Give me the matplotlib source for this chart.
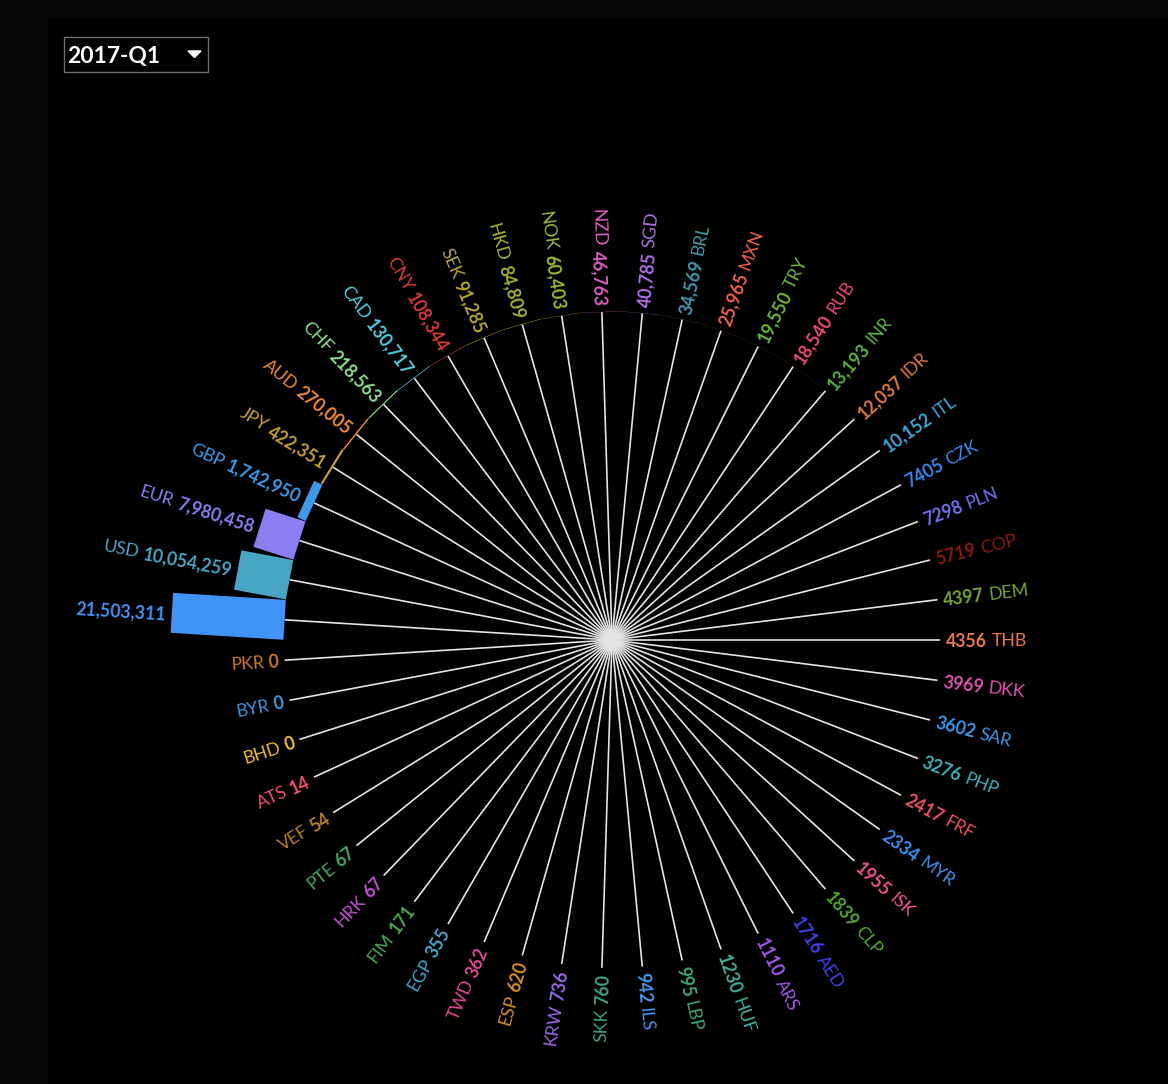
import numpy as np
import matplotlib.pyplot as plt
from matplotlib.patches import Polygon, Rectangle
from matplotlib.font_manager import FontProperties

# data: currency volumes for the selected quarter, in the order they go round the circle
quarter = "2017-Q1"
names = ["", "USD", "EUR", "GBP", "JPY", "AUD", "CHF", "CAD", "CNY", "SEK",
         "HKD", "NOK", "NZD", "SGD", "BRL", "MXN", "TRY", "RUB", "INR", "IDR",
         "ITL", "CZK", "PLN", "COP", "DEM", "THB", "DKK", "SAR", "PHP", "FRF",
         "MYR", "ISK", "CLP", "AED", "ARS", "HUF", "LBP", "ILS", "SKK", "KRW",
         "ESP", "TWD", "EGP", "FIM", "HRK", "PTE", "VEF", "ATS", "BHD", "BYR", "PKR"]
values = [21503311, 10054259, 7980458, 1742950, 422351, 270005, 218563, 130717, 108344, 91285,
          84809, 60403, 46763, 40785, 34569, 25965, 19550, 18540, 13193, 12037,
          10152, 7405, 7298, 5719, 4397, 4356, 3969, 3602, 3276, 2417,
          2334, 1955, 1839, 1716, 1110, 1230, 995, 942, 760, 736,
          620, 362, 355, 171, 67, 67, 54, 14, 0, 0, 0]
colors = ["#4194f6", "#48a6c4", "#8a7ef2", "#3b9be8", "#c4a028", "#f08c28", "#8ede8e", "#4fd0e0", "#d63a35", "#b5a632",
          "#a8b030", "#9cb82e", "#e060c0", "#b070e8", "#3a9aaa", "#f06050", "#6ab830", "#f04878", "#58b040", "#e07838",
          "#38a8d8", "#3888f0", "#7070f0", "#8a1a10", "#78a828", "#e87840", "#e050b0", "#3898e8", "#40b0b8", "#f05060",
          "#3890f0", "#f05090", "#50a828", "#4040e8", "#a058e8", "#40b0a0", "#40a870", "#4898f0", "#40a088", "#9868e8",
          "#d89020", "#e04898", "#40a8d0", "#48a850", "#c050d0", "#40a860", "#b88020", "#f05070", "#f0c020", "#3898e0", "#c87828"]


def fmt(v):
    return f"{v:,}" if v >= 10000 else str(v)


W, H = 1168, 1084
fig = plt.figure(figsize=(W / 100, H / 100), dpi=100, facecolor="#070605")
ax = fig.add_axes([0, 0, 1, 1])
ax.set_xlim(0, W)
ax.set_ylim(H, 0)
ax.axis("off")
ax.add_patch(Rectangle((48, 18), W, H, color="black", zorder=0))

cx, cy = 612, 640      # centre of the circle
r_in = 328             # where the bars start
bar_max = 113          # length of the largest bar
bar_w = 40
pad = 6
n = len(values)
step = 2 * np.pi / n
phi = np.pi - (np.arange(n) + 0.5) * step
lengths = np.array(values) / max(values) * bar_max

fs = 12.7
f_bold = FontProperties(family="Lato", weight="bold", size=fs)
f_reg = FontProperties(family="Lato", size=fs)
renderer = fig.canvas.get_renderer()

c = np.array([cx, cy])
for i in range(n):
    u = np.array([np.cos(phi[i]), -np.sin(phi[i])])
    t = np.array([np.sin(phi[i]), np.cos(phi[i])])
    p_in = c + r_in * u
    ax.plot([cx, p_in[0]], [cy, p_in[1]], color="#e4e4e4", lw=1.2, zorder=1,
            solid_capstyle="butt")
    L = lengths[i]
    corners = [p_in - bar_w / 2 * t, p_in + L * u - bar_w / 2 * t,
               p_in + L * u + bar_w / 2 * t, p_in + bar_w / 2 * t]
    ax.add_patch(Polygon(corners, closed=True, facecolor=colors[i],
                         edgecolor="none", zorder=2))

    # labels: value nearest the centre, name further out
    r0 = r_in + L + pad
    right = np.cos(phi[i]) > 1e-9
    rot = np.degrees(phi[i]) if right else np.degrees(phi[i]) - 180
    ha = "left" if right else "right"
    vtxt = fmt(values[i])
    p0 = c + r0 * u
    ax.text(p0[0], p0[1], vtxt, fontproperties=f_bold, color=colors[i],
            rotation=rot, rotation_mode="anchor", ha=ha, va="center_baseline", zorder=3)
    if names[i]:
        wv = renderer.get_text_width_height_descent(vtxt, f_bold, ismath=False)[0]
        p1 = c + (r0 + wv + 4.5) * u
        ax.text(p1[0], p1[1], names[i], fontproperties=f_reg, color=colors[i],
                rotation=rot, rotation_mode="anchor", ha=ha, va="center_baseline", zorder=3)

# quarter selector
ax.add_patch(Rectangle((63.5, 36.5), 144, 35, facecolor="black", edgecolor="#6e6e6e", lw=1, zorder=3))
ax.text(67, 55, quarter, color="white", fontsize=16.5, family="Lato", weight="bold",
        va="center_baseline", ha="left", zorder=4)
ax.fill([188, 201, 194.5], [51, 51, 57.5], color="white", zorder=4)

plt.savefig("out.png", dpi=100, facecolor=fig.get_facecolor())
